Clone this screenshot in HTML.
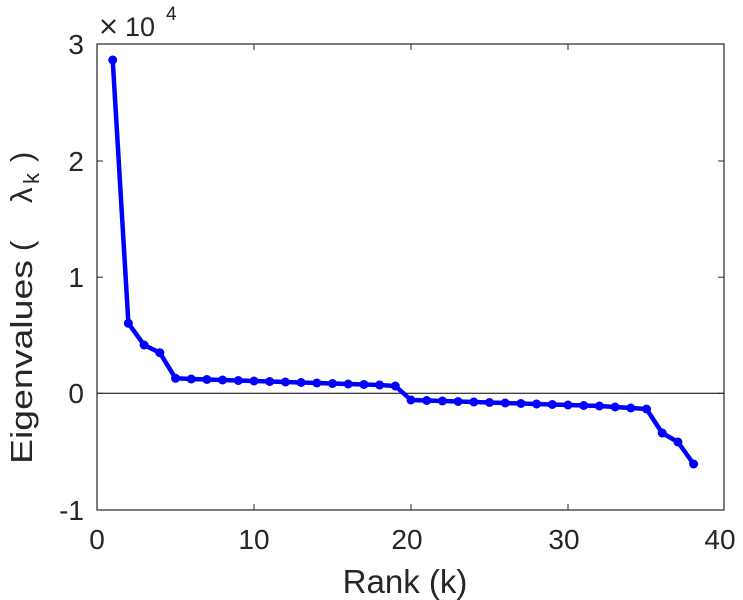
<!DOCTYPE html>
<html><head><style>body{margin:0;background:#fff}svg{display:block}</style></head><body>
<svg width="743" height="600" xmlns="http://www.w3.org/2000/svg" font-family="Liberation Sans, sans-serif" fill="#262626">
<rect width="743" height="600" fill="#fff"/>
<line x1="97" y1="393.3" x2="724" y2="393.3" stroke="#000" stroke-width="1"/>
<rect x="97" y="44" width="627" height="466" fill="none" stroke="#262626" stroke-width="1.2"/>
<g stroke="#262626" stroke-width="1">
<line x1="254" y1="510" x2="254" y2="504"/><line x1="411" y1="510" x2="411" y2="504"/><line x1="568" y1="510" x2="568" y2="504"/>
<line x1="254" y1="44" x2="254" y2="50"/><line x1="411" y1="44" x2="411" y2="50"/><line x1="568" y1="44" x2="568" y2="50"/>
<line x1="97" y1="161" x2="103" y2="161"/><line x1="97" y1="277.2" x2="103" y2="277.2"/><line x1="97" y1="393.3" x2="103" y2="393.3"/>
<line x1="724" y1="161" x2="718" y2="161"/><line x1="724" y1="277.2" x2="718" y2="277.2"/><line x1="724" y1="393.3" x2="718" y2="393.3"/>
</g>
<g font-size="28" text-anchor="middle">
<text x="97" y="549">0</text><text x="254" y="549">10</text><text x="407" y="549">20</text><text x="564" y="549">30</text><text x="720" y="549">40</text>
</g>
<g font-size="28" text-anchor="end">
<text x="84" y="54">3</text><text x="84" y="171">2</text><text x="84" y="287">1</text><text x="84" y="403">0</text><text x="84" y="520">-1</text>
</g>
<g stroke="#262626" stroke-width="2.2"><line x1="102" y1="20" x2="115" y2="33"/><line x1="115" y1="20" x2="102" y2="33"/></g>
<text x="125" y="36" font-size="27">10</text><text x="166" y="20" font-size="19">4</text>
<text x="405" y="593" font-size="33" text-anchor="middle">Rank (k)</text>
<g transform="translate(32,0) rotate(-90)" font-size="31">
<text x="-464" textLength="204" lengthAdjust="spacingAndGlyphs">Eigenvalues</text>
<text x="-251">(</text>
<text x="-203">λ</text>
<text x="-184" y="7" font-size="22">k</text>
<text x="-162">)</text>
</g>
<polyline fill="none" stroke="#0000ff" stroke-width="4.5" stroke-linejoin="round" points="112.7,60 128.4,323.3 144.1,345 159.8,352.7 175.5,378.3 191.2,379 206.9,379.5 222.6,380 238.3,380.5 254,381 269.7,381.5 285.4,382 301.1,382.5 316.8,383 332.5,383.5 348.2,384 363.9,384.5 379.6,385 395.3,386 411,400 426.7,400.5 442.4,401 458.1,401.5 473.8,402 489.5,402.5 505.2,403 520.9,403.5 536.6,404 552.3,404.5 568,405 583.7,405.5 599.4,406 615.1,407 630.8,408 646.5,409 662.2,433 677.9,442 693.6,464"/>
<g fill="#0000ff">
<circle cx="112.7" cy="60" r="4.5"/><circle cx="128.4" cy="323.3" r="4.5"/><circle cx="144.1" cy="345" r="4.5"/><circle cx="159.8" cy="352.7" r="4.5"/><circle cx="175.5" cy="378.3" r="4.5"/><circle cx="191.2" cy="379" r="4.5"/><circle cx="206.9" cy="379.5" r="4.5"/><circle cx="222.6" cy="380" r="4.5"/><circle cx="238.3" cy="380.5" r="4.5"/><circle cx="254" cy="381" r="4.5"/><circle cx="269.7" cy="381.5" r="4.5"/><circle cx="285.4" cy="382" r="4.5"/><circle cx="301.1" cy="382.5" r="4.5"/><circle cx="316.8" cy="383" r="4.5"/><circle cx="332.5" cy="383.5" r="4.5"/><circle cx="348.2" cy="384" r="4.5"/><circle cx="363.9" cy="384.5" r="4.5"/><circle cx="379.6" cy="385" r="4.5"/><circle cx="395.3" cy="386" r="4.5"/><circle cx="411" cy="400" r="4.5"/><circle cx="426.7" cy="400.5" r="4.5"/><circle cx="442.4" cy="401" r="4.5"/><circle cx="458.1" cy="401.5" r="4.5"/><circle cx="473.8" cy="402" r="4.5"/><circle cx="489.5" cy="402.5" r="4.5"/><circle cx="505.2" cy="403" r="4.5"/><circle cx="520.9" cy="403.5" r="4.5"/><circle cx="536.6" cy="404" r="4.5"/><circle cx="552.3" cy="404.5" r="4.5"/><circle cx="568" cy="405" r="4.5"/><circle cx="583.7" cy="405.5" r="4.5"/><circle cx="599.4" cy="406" r="4.5"/><circle cx="615.1" cy="407" r="4.5"/><circle cx="630.8" cy="408" r="4.5"/><circle cx="646.5" cy="409" r="4.5"/><circle cx="662.2" cy="433" r="4.5"/><circle cx="677.9" cy="442" r="4.5"/><circle cx="693.6" cy="464" r="4.5"/>
</g>
</svg>
</body></html>
